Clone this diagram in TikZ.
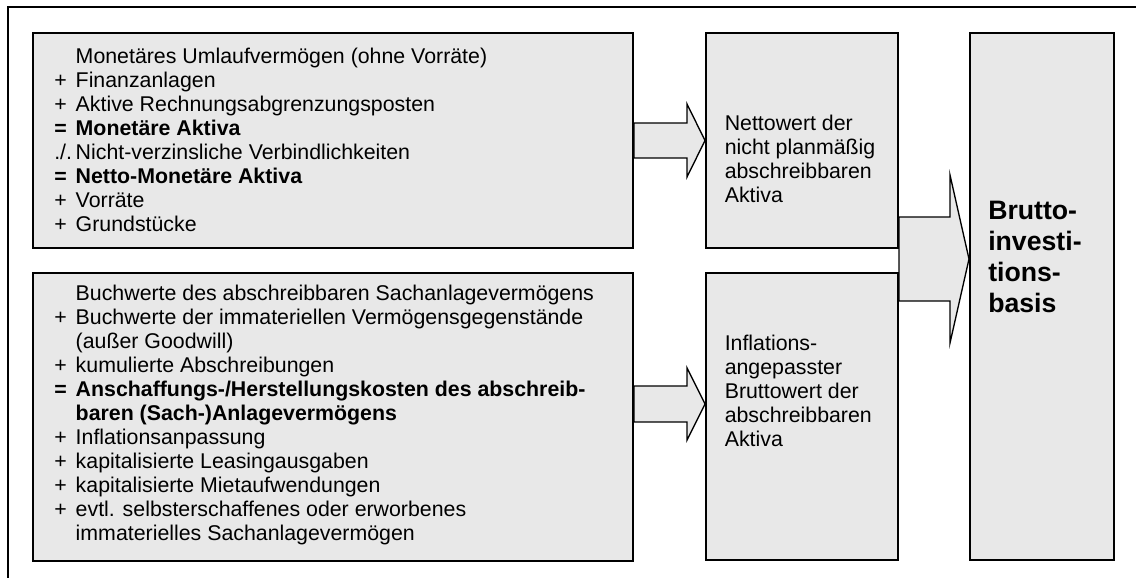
\documentclass[tikz,border=0pt]{standalone}
\usepackage{fontspec}
\setmainfont{Liberation Sans}
\usetikzlibrary{calc}
\definecolor{boxgray}{RGB}{232,232,232}
\tikzset{
	box/.style={draw, line width=1.5pt, fill=boxgray, anchor=north west, inner sep=0pt},
	txt/.style={anchor=base west, inner sep=0pt, font=\fontsize{16pt}{18pt}\selectfont},
	bigtxt/.style={anchor=base west, inner sep=0pt, font=\fontsize{20pt}{23.25pt}\selectfont\bfseries},
	arrowbody/.style={draw, line width=1pt, fill=boxgray, line join=miter}
}
% block arrow: start, tip, half shaft, half head, head length
\newcommand{\blockarrow}[5]{
	\draw[arrowbody]($(#1)+(0,-#3)$)--($(#2)+(-#5,-#3)$)--($(#2)+(-#5,-#4)$)--(#2)--($(#2)+(-#5,#4)$)--($(#2)+(-#5,#3)$)--($(#1)+(0,#3)$)--cycle
}
\newcommand*{\sgn}[1]{\makebox[16.1pt][l]{#1}}

\begin{document}
\begin{tikzpicture}[x=0.75pt, y=-0.75pt]
	\useasboundingbox (0,0) rectangle (1136,578);
	\draw[line width=1.3pt](8,578)--(8,7.3)--(1136,7.3);
	% boxes
	\node[box, minimum width=450pt, minimum height=161.25pt](mon) at (32,32){};
	\node[box, minimum width=450pt, minimum height=216pt](buch) at (32,272){};
	\node[box, minimum width=144pt, minimum height=161.25pt](netto) at (705,32){};
	\node[box, minimum width=144pt, minimum height=215.25pt](infl) at (705,272){};
	\node[box, minimum width=108pt, minimum height=395.25pt](brutto) at (969,32){};
	% texts
	\node[txt](montxt) at (54,63.3){\begin{tabular}[t]{@{}p{16.1pt}@{}l@{}}
		& Monetäres Umlaufvermögen (ohne Vorräte)\\
		+ & Finanzanlagen\\
		+ & Aktive Rechnungsabgrenzungsposten\\
		\bfseries = & \bfseries Monetäre Aktiva\\
		./. & Nicht-verzinsliche Verbindlichkeiten\\
		\bfseries = & \bfseries Netto-Monetäre Aktiva\\
		+ & Vorräte\\
		+ & Grundstücke
	\end{tabular}};
	\node[txt](buchtxt) at (54,300){\begin{tabular}[t]{@{}p{16.1pt}@{}l@{}}
		& Buchwerte des abschreibbaren Sachanlagevermögens\\
		+ & Buchwerte der immateriellen Vermögensgegenstände\\
		& (außer Goodwill)\\
		+ & kumulierte Abschreibungen\\
		\bfseries = & \bfseries Anschaffungs-/Herstellungskosten des abschreib-\\
		& \bfseries baren (Sach-)Anlagevermögens\\
		+ & Inflationsanpassung\\
		+ & kapitalisierte Leasingausgaben\\
		+ & kapitalisierte Mietaufwendungen\\
		+ & evtl. selbsterschaffenes oder erworbenes\\
		& immaterielles Sachanlagevermögen
	\end{tabular}};
	\node[txt](nettotxt) at (724.5,130){\begin{tabular}[t]{@{}l@{}}
		Nettowert der\\ nicht planmäßig\\ abschreibbaren\\ Aktiva
	\end{tabular}};
	\node[txt](infltxt) at (724.5,350){\begin{tabular}[t]{@{}l@{}}
		Inflations-\\ angepasster\\ Bruttowert der\\ abschreibbaren\\ Aktiva
	\end{tabular}};
	\node[bigtxt](bruttotxt) at (988,219){\begin{tabular}[t]{@{}l@{}}
		Brutto-\\ investi-\\ tions-\\ basis
	\end{tabular}};
	% arrows
	\coordinate(b1) at (buch.east |- 0,404);
	\coordinate(b2) at (infl.west |- 0,404);
	\coordinate(c1) at (netto.east |- 0,259);
	\coordinate(c2) at (brutto.west |- 0,259);
	\blockarrow{mon.east}{netto.west}{17.5}{36.5}{18};
	\blockarrow{b1}{b2}{18}{36}{18};
	\blockarrow{c1}{c2}{42}{84}{19};
\end{tikzpicture}
\end{document}
